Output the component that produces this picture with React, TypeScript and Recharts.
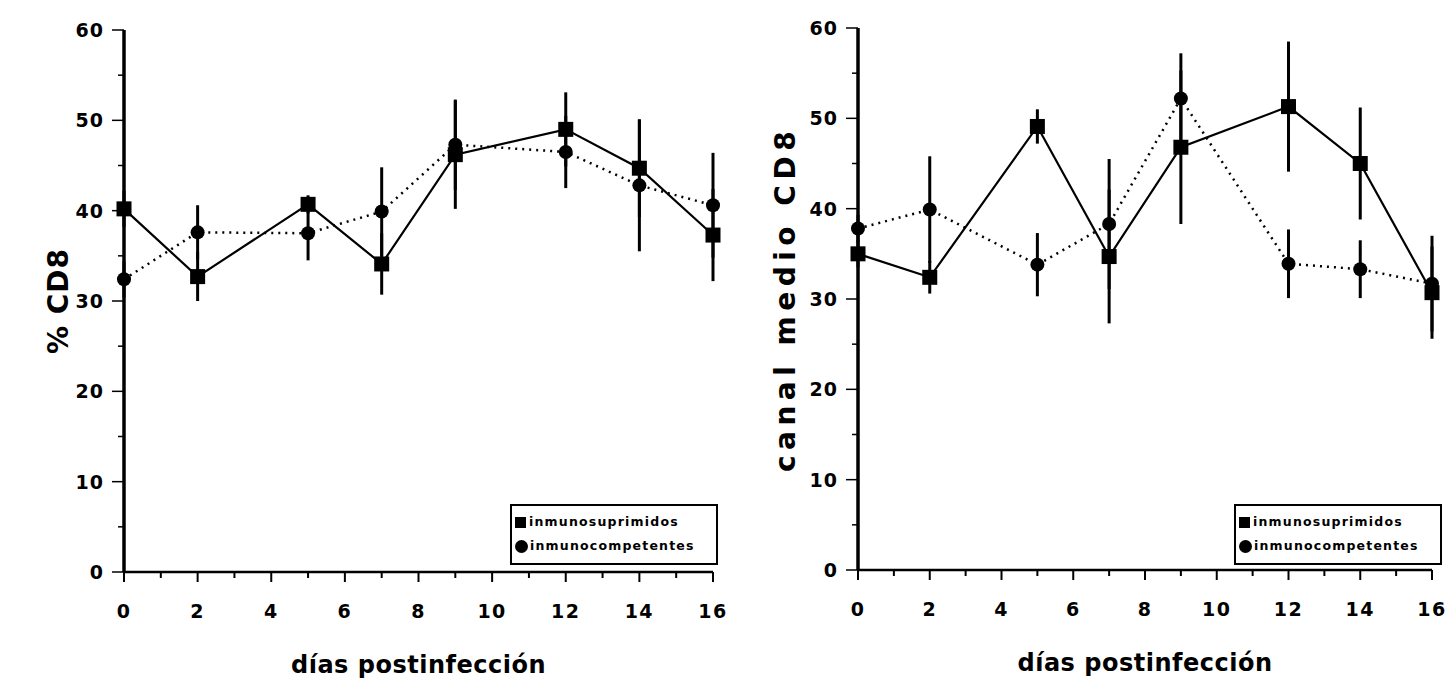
import React from 'react';
import { LineChart, Line, XAxis, YAxis, ErrorBar, Legend } from 'recharts';

const days = [0, 2, 5, 7, 9, 12, 14, 16];

// % CD8 (left panel)
const pctSup = [40.2, 32.7, 40.7, 34.1, 46.2, 49.0, 44.7, 37.3];
const pctSupErr = [2.0, 2.7, 1.0, 3.4, 6.0, 4.1, 5.4, 5.1];
const pctComp = [32.4, 37.6, 37.5, 39.9, 47.3, 46.5, 42.8, 40.6];
const pctCompErr = [2.0, 3.0, 3.0, 4.9, 5.0, 4.0, 7.3, 5.8];

// canal medio CD8 (right panel)
const canSup = [35.0, 32.4, 49.1, 34.7, 46.8, 51.3, 45.0, 30.7];
const canSupErr = [1.5, 1.8, 1.9, 7.4, 8.5, 7.2, 6.2, 5.1];
const canComp = [37.8, 39.9, 33.8, 38.3, 52.2, 33.9, 33.3, 31.7];
const canCompErr = [1.5, 5.9, 3.5, 7.2, 5.0, 3.8, 3.2, 5.3];

const yTicks = [0, 5, 10, 15, 20, 25, 30, 35, 40, 45, 50, 55, 60];
const xTicks = [0, 1, 2, 3, 4, 5, 6, 7, 8, 9, 10, 11, 12, 13, 14, 15, 16];
const seriesNames = ['inmunosuprimidos', 'inmunocompetentes'];
const xTitle = 'días postinfección';

const FONT = '"DejaVu Sans", Verdana, sans-serif';

const buildRows = (sup: number[], supErr: number[], comp: number[], compErr: number[]) =>
  days.map((d, i) => ({ day: d, sup: sup[i], supErr: supErr[i], comp: comp[i], compErr: compErr[i] }));

const YTick = (props: any) => {
  const { x, y, payload } = props;
  const major = payload.value % 10 === 0;
  return (
    <g>
      <line x1={x} x2={x - (major ? 12 : 6)} y1={y} y2={y} stroke="#000" strokeWidth={1.5} />
      {major && (
        <text x={x - 20} y={y} dy={7} textAnchor="end" fontSize={19} fontWeight="bold" fill="#000" fontFamily={FONT} letterSpacing={1}>
          {payload.value}
        </text>
      )}
    </g>
  );
};

const XTick = (props: any) => {
  const { x, y, payload } = props;
  const major = payload.value % 2 === 0;
  return (
    <g>
      <line x1={x} x2={x} y1={y} y2={y + (major ? 10 : 6)} stroke="#000" strokeWidth={2} />
      {major && (
        <text x={x} y={y + 46} textAnchor="middle" fontSize={19} fontWeight="bold" fill="#000" fontFamily={FONT} letterSpacing={1.5}>
          {payload.value}
        </text>
      )}
    </g>
  );
};

const XTitle = (props: any) => {
  const vb = props.viewBox || {};
  return (
    <text x={vb.x + vb.width / 2} y={vb.y + 101} textAnchor="middle" fontSize={24} fontWeight="bold" fill="#000" fontFamily={FONT} letterSpacing={0.5}>
      {xTitle}
    </text>
  );
};

const YTitle = (props: any) => {
  const vb = props.viewBox || {};
  const cx = props.cx;
  const cy = vb.y + vb.height / 2;
  return (
    <text x={cx} y={cy} transform={`rotate(-90, ${cx}, ${cy})`} textAnchor="middle" dominantBaseline="central" fontSize={28} fontWeight="bold" fill="#000" fontFamily={FONT} letterSpacing={props.spacing}>
      {props.text}
    </text>
  );
};

const SquareDot = (p: any) =>
  p.cx == null ? null : <rect key={`sq-${p.index}`} x={p.cx - 7.5} y={p.cy - 7.5} width={15} height={15} fill="#000" />;

const CircleDot = (p: any) =>
  p.cx == null ? null : <circle key={`ci-${p.index}`} cx={p.cx} cy={p.cy} r={7} fill="#000" />;

const LegendBox = () => (
  <div style={{ boxSizing: 'border-box', width: 208, border: '2px solid #000', background: '#fff', padding: '4px 3px 5px 3px', fontFamily: FONT, fontSize: 12.5, fontWeight: 'bold', letterSpacing: 1.2, lineHeight: '24px', color: '#000', whiteSpace: 'nowrap' }}>
    <div style={{ display: 'flex', alignItems: 'center' }}>
      <span style={{ display: 'inline-block', width: 11, height: 11, background: '#000', marginRight: 3 }} />
      {seriesNames[0]}
    </div>
    <div style={{ display: 'flex', alignItems: 'center' }}>
      <span style={{ display: 'inline-block', width: 13, height: 13, borderRadius: 7, background: '#000', marginRight: 2 }} />
      {seriesNames[1]}
    </div>
  </div>
);

const Panel = ({ rows, yTitle, titleX, titleSpacing, axisW, top, width, right, legendLeft }: any) => (
  <LineChart width={width} height={681} data={rows} margin={{ top, right, left: 0, bottom: 0 }} style={{ fontFamily: FONT }}>
    <XAxis
      dataKey="day"
      type="number"
      domain={[0, 16]}
      ticks={xTicks}
      interval={0}
      tickSize={0}
      tickMargin={0}
      tickLine={false}
      tick={<XTick />}
      axisLine={{ stroke: '#000', strokeWidth: 2.5 }}
      height={681 - 572 + (30 - top)}
      label={<XTitle />}
    />
    <YAxis
      type="number"
      domain={[0, 60]}
      ticks={yTicks}
      interval={0}
      tickSize={0}
      tickMargin={0}
      tickLine={false}
      tick={<YTick />}
      axisLine={{ stroke: '#000', strokeWidth: 3.5 }}
      width={axisW}
      label={<YTitle text={yTitle} cx={titleX} spacing={titleSpacing} />}
    />
    <Legend
      layout="vertical"
      align="center"
      verticalAlign="middle"
      content={<LegendBox />}
      wrapperStyle={{ position: 'absolute', left: legendLeft, top: 504, width: 'auto' }}
    />
    <Line
      dataKey="comp"
      stroke="#000"
      strokeWidth={2.5}
      strokeDasharray="2 5"
      dot={CircleDot}
      isAnimationActive={false}
    >
      <ErrorBar dataKey="compErr" direction="y" width={0} stroke="#000" strokeWidth={3} />
    </Line>
    <Line
      dataKey="sup"
      stroke="#000"
      strokeWidth={2.2}
      dot={SquareDot}
      isAnimationActive={false}
    >
      <ErrorBar dataKey="supErr" direction="y" width={0} stroke="#000" strokeWidth={3} />
    </Line>
  </LineChart>
);

export default function App() {
  const left = buildRows(pctSup, pctSupErr, pctComp, pctCompErr);
  const right = buildRows(canSup, canSupErr, canComp, canCompErr);
  return (
    <div style={{ position: 'absolute', left: 0, top: 0, width: 1450, height: 681, background: '#fff', overflow: 'hidden' }}>
      <div style={{ position: 'absolute', left: 0, top: 0 }}>
        <Panel rows={left} yTitle="% CD8" titleX={58} titleSpacing={1} axisW={124} top={30} width={740} right={27} legendLeft={510} />
      </div>
      <div style={{ position: 'absolute', left: 725, top: 0 }}>
        <Panel rows={right} yTitle="canal medio CD8" titleX={60} titleSpacing={5.5} axisW={133} top={28} width={725} right={18} legendLeft={509} />
      </div>
    </div>
  );
}
